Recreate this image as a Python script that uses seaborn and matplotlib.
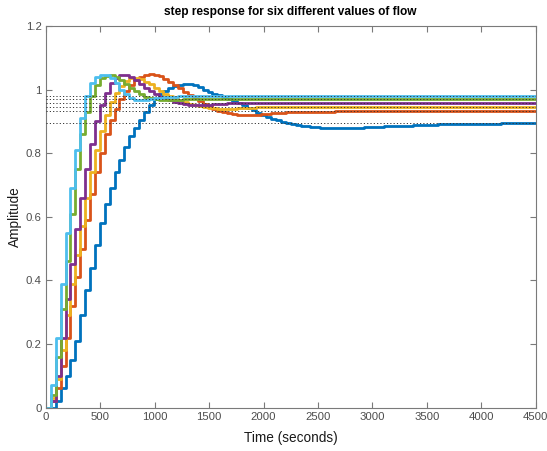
import numpy as np
import pandas as pd
import matplotlib
matplotlib.use("Agg")
import matplotlib.pyplot as plt
import seaborn as sns

# sample period of the discrete step responses (seconds)
Ts = 45
n_samples = 101

blue = [0.0, 0.0, 0.02, 0.06, 0.10, 0.15, 0.21, 0.29, 0.37, 0.44,
        0.51, 0.58, 0.64, 0.69, 0.74, 0.78, 0.82, 0.855, 0.88, 0.905,
        0.93, 0.95, 0.97, 0.985, 0.997, 1.006, 1.012, 1.015, 1.017, 1.016,
        1.013, 1.007, 1.0, 0.993, 0.985, 0.983, 0.978, 0.971, 0.964, 0.957,
        0.950, 0.943, 0.935, 0.927, 0.921, 0.915, 0.909, 0.904, 0.899, 0.895,
        0.892, 0.889, 0.886, 0.884, 0.882, 0.881, 0.880, 0.879, 0.878, 0.878,
        0.878, 0.878, 0.879, 0.879, 0.880, 0.881, 0.882, 0.882, 0.883, 0.884,
        0.885, 0.885, 0.886, 0.887, 0.887, 0.888, 0.889, 0.889, 0.890, 0.890,
        0.891, 0.891, 0.891, 0.892, 0.892, 0.892, 0.892, 0.893, 0.893, 0.893,
        0.893, 0.893, 0.893, 0.894, 0.894, 0.894, 0.894, 0.894, 0.894, 0.894,
        0.894]
red = [0.0, 0.02, 0.06, 0.13, 0.22, 0.32, 0.41, 0.50, 0.59, 0.67,
       0.74, 0.80, 0.86, 0.905, 0.94, 0.97, 0.995, 1.014, 1.03, 1.041,
       1.047, 1.049, 1.047, 1.042, 1.034, 1.025, 1.015, 1.004, 0.993, 0.983,
       0.973, 0.964, 0.955, 0.947, 0.940, 0.934, 0.929, 0.926, 0.923, 0.921,
       0.920, 0.920, 0.920, 0.921, 0.922, 0.924, 0.925, 0.926, 0.927, 0.928,
       0.929, 0.929, 0.930, 0.930, 0.930, 0.931, 0.931, 0.931, 0.931, 0.932,
       0.932, 0.932, 0.932, 0.932, 0.932, 0.933, 0.933, 0.933, 0.933, 0.933,
       0.933, 0.933, 0.933, 0.933, 0.933, 0.933, 0.933, 0.933, 0.933, 0.933,
       0.933, 0.933, 0.933, 0.933, 0.933, 0.933, 0.933, 0.933, 0.933, 0.933,
       0.933, 0.933, 0.933, 0.933, 0.933, 0.933, 0.933, 0.933, 0.933, 0.933,
       0.933]
yellow = [0.0, 0.03, 0.09, 0.18, 0.29, 0.39, 0.48, 0.57, 0.66, 0.74,
          0.81, 0.87, 0.92, 0.96, 0.99, 1.012, 1.027, 1.035, 1.036, 1.032,
          1.025, 1.016, 1.006, 0.996, 0.987, 0.979, 0.972, 0.966, 0.961, 0.956,
          0.952, 0.948, 0.945, 0.943, 0.941, 0.940, 0.940, 0.940, 0.940, 0.941,
          0.941, 0.942, 0.943, 0.944, 0.944, 0.945, 0.945, 0.946, 0.946, 0.946,
          0.946, 0.946, 0.946, 0.946, 0.946, 0.946, 0.946, 0.946, 0.946, 0.946,
          0.946, 0.946, 0.946, 0.946, 0.946, 0.946, 0.946, 0.946, 0.946, 0.946,
          0.946, 0.946, 0.946, 0.946, 0.946, 0.946, 0.946, 0.946, 0.946, 0.946,
          0.946, 0.946, 0.946, 0.946, 0.946, 0.946, 0.946, 0.946, 0.946, 0.946,
          0.946, 0.946, 0.946, 0.946, 0.946, 0.946, 0.946, 0.946, 0.946, 0.946,
          0.946]
purple = [0.0, 0.02, 0.10, 0.22, 0.34, 0.45, 0.56, 0.66, 0.75, 0.83,
          0.90, 0.95, 0.99, 1.02, 1.038, 1.045, 1.045, 1.04, 1.03, 1.017,
          1.005, 0.995, 0.985, 0.977, 0.971, 0.966, 0.961, 0.958, 0.955, 0.953,
          0.952, 0.952, 0.952, 0.953, 0.954, 0.955, 0.956, 0.957, 0.957, 0.957,
          0.957, 0.957, 0.957, 0.957, 0.957, 0.957, 0.957, 0.957, 0.957, 0.957,
          0.957, 0.957, 0.957, 0.957, 0.957, 0.957, 0.957, 0.957, 0.957, 0.957,
          0.957, 0.957, 0.957, 0.957, 0.957, 0.957, 0.957, 0.957, 0.957, 0.957,
          0.957, 0.957, 0.957, 0.957, 0.957, 0.957, 0.957, 0.957, 0.957, 0.957,
          0.957, 0.957, 0.957, 0.957, 0.957, 0.957, 0.957, 0.957, 0.957, 0.957,
          0.957, 0.957, 0.957, 0.957, 0.957, 0.957, 0.957, 0.957, 0.957, 0.957,
          0.957]
green = [0.0, 0.04, 0.16, 0.31, 0.46, 0.61, 0.75, 0.86, 0.93, 0.98,
         1.015, 1.035, 1.044, 1.045, 1.04, 1.03, 1.018, 1.005, 0.994, 0.985,
         0.978, 0.973, 0.969, 0.967, 0.966, 0.966, 0.967, 0.968, 0.969, 0.970,
         0.971, 0.971, 0.971, 0.971, 0.971, 0.971, 0.971, 0.971, 0.971, 0.971,
         0.971, 0.971, 0.971, 0.971, 0.971, 0.971, 0.971, 0.971, 0.971, 0.971,
         0.971, 0.971, 0.971, 0.971, 0.971, 0.971, 0.971, 0.971, 0.971, 0.971,
         0.971, 0.971, 0.971, 0.971, 0.971, 0.971, 0.971, 0.971, 0.971, 0.971,
         0.971, 0.971, 0.971, 0.971, 0.971, 0.971, 0.971, 0.971, 0.971, 0.971,
         0.971, 0.971, 0.971, 0.971, 0.971, 0.971, 0.971, 0.971, 0.971, 0.971,
         0.971, 0.971, 0.971, 0.971, 0.971, 0.971, 0.971, 0.971, 0.971, 0.971,
         0.971]
cyan = [0.0, 0.07, 0.22, 0.39, 0.55, 0.69, 0.81, 0.91, 0.98, 1.02,
        1.04, 1.047, 1.045, 1.035, 1.02, 1.0, 0.985, 0.975, 0.968, 0.966,
        0.967, 0.969, 0.972, 0.974, 0.976, 0.977, 0.978, 0.979, 0.979, 0.979,
        0.979, 0.979, 0.979, 0.979, 0.979, 0.979, 0.979, 0.979, 0.979, 0.979,
        0.979, 0.979, 0.979, 0.979, 0.979, 0.979, 0.979, 0.979, 0.979, 0.979,
        0.979, 0.979, 0.979, 0.979, 0.979, 0.979, 0.979, 0.979, 0.979, 0.979,
        0.979, 0.979, 0.979, 0.979, 0.979, 0.979, 0.979, 0.979, 0.979, 0.979,
        0.979, 0.979, 0.979, 0.979, 0.979, 0.979, 0.979, 0.979, 0.979, 0.979,
        0.979, 0.979, 0.979, 0.979, 0.979, 0.979, 0.979, 0.979, 0.979, 0.979,
        0.979, 0.979, 0.979, 0.979, 0.979, 0.979, 0.979, 0.979, 0.979, 0.979,
        0.979]

series_names = ["flow1", "flow2", "flow3", "flow4", "flow5", "flow6"]
series_vals = [blue, red, yellow, purple, green, cyan]
final_vals = [0.894, 0.933, 0.946, 0.957, 0.971, 0.979]
colors = ["#0072BD", "#D95319", "#EDB120", "#7E2F8E", "#77AC30", "#4DBEEE"]

xticks = [0, 500, 1000, 1500, 2000, 2500, 3000, 3500, 4000, 4500]
yticks = [0, 0.2, 0.4, 0.6, 0.8, 1.0, 1.2]

t = np.arange(n_samples) * Ts
rows = []
for name, vals in zip(series_names, series_vals):
    for ti, v in zip(t, vals):
        rows.append((name, ti, v))
df = pd.DataFrame(rows, columns=["series", "time", "amp"])

sns.set_theme(style="white")
plt.rcParams["font.family"] = ["Liberation Sans", "DejaVu Sans"]

fig = plt.figure(figsize=(5.47, 4.51), dpi=100)
ax = fig.add_axes([46 / 547, 1 - 407.5 / 451, (535.5 - 46) / 547, (407.5 - 26) / 451])

sns.lineplot(data=df, x="time", y="amp", hue="series", hue_order=series_names,
             palette=colors, drawstyle="steps-post", linewidth=2.0,
             estimator=None, sort=False, legend=False, ax=ax, zorder=2)

for fv in final_vals:
    ax.axhline(fv, color="#333333", linewidth=0.7, linestyle=(0, (1.2, 2.2)), zorder=3)

ax.set_xlim(0, 4500)
ax.set_ylim(0, 1.2)
ax.set_xticks(xticks)
ax.set_yticks(yticks)
ax.set_xticklabels([f"{v:g}" for v in xticks])
ax.set_yticklabels([f"{v:g}" for v in yticks])

axis_col = "#7a7a7a"
for sp in ax.spines.values():
    sp.set_color(axis_col)
    sp.set_linewidth(0.8)
ax.tick_params(axis="both", which="both", direction="in", length=4, width=0.8,
               color=axis_col, labelcolor="#4d4d4d", labelsize=8.2,
               top=True, right=True, bottom=True, left=True, pad=3)

ax.set_xlabel("Time (seconds)", fontsize=9.8, color="#1a1a1a", labelpad=7)
ax.set_ylabel("Amplitude", fontsize=9.8, color="#1a1a1a", labelpad=3)
ax.set_title("step response for six different values of flow", fontsize=8.6,
             fontweight="bold", color="#000000", pad=8)

fig.savefig("out.png", dpi=100)
